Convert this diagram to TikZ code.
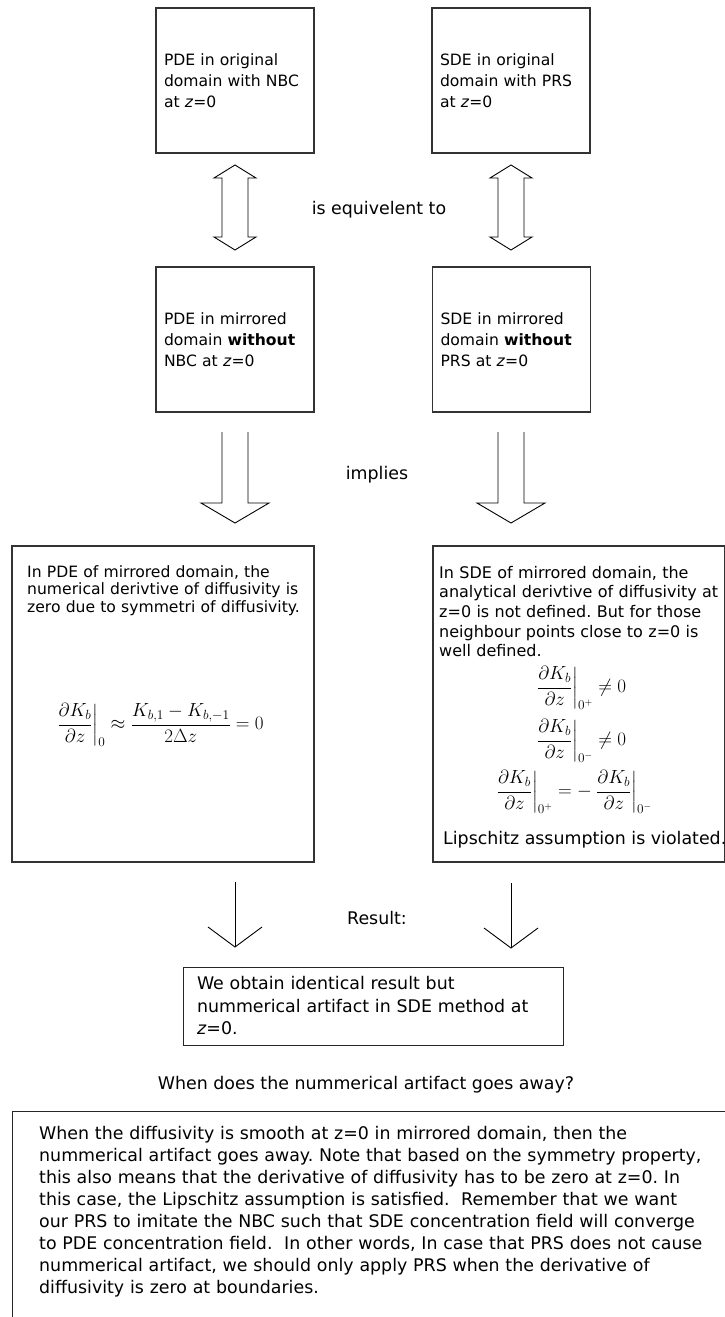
\RequirePackage{fix-cm}
\documentclass[tikz,border=0pt]{standalone}
\usepackage{fontspec}
\setmainfont{DejaVu Sans}
\usepackage{amsmath}
\frenchspacing
\begin{document}
\begin{tikzpicture}[x=1pt,y=-1pt,
  box/.style={draw=black!80, line width=1.3pt, inner sep=0pt},
  smallbox/.style={box, minimum width=158pt, minimum height=145pt, text width=142pt, inner xsep=8pt, align=left, font=\fontsize{15.6}{21}\selectfont},
  lbl/.style={font=\fontsize{17.4}{21}\selectfont, inner sep=0pt, anchor=base},
  para/.style={inner sep=0pt, anchor=base west, align=left},
  mathnode/.style={inner sep=0pt, font=\fontsize{19}{23}\selectfont},
  arr/.style={draw=black, line width=0.9pt, line join=miter},
]
\useasboundingbox (0,0) rectangle (725,1317);

% top boxes
\node[smallbox] (pdeo) at (235,80.5) {PDE in original\\domain with NBC\\at \textit{z}=0};
\node[smallbox] (sdeo) at (511,80.5) {SDE in original\\domain with PRS\\at \textit{z}=0};
\node[smallbox] (pdem) at (235,339.5) {PDE in mirrored\\domain \textbf{without}\\NBC at \textit{z}=0};
\node[smallbox] (sdem) at (511.5,339.5) {SDE in mirrored\\domain \textbf{without}\\PRS at \textit{z}=0};

% equivalence arrows
\coordinate (e1) at (235,165);
\coordinate (e2) at (511,165);
\foreach \c in {e1,e2}{
  \draw[arr] (\c) -- ++(21,13) -- ++(-8,0) -- ++(0,59) -- ++(8,0) -- ++(-21,13) -- ++(-21,-13) -- ++(8,0) -- ++(0,-59) -- ++(-8,0) -- cycle;
}
\node[lbl] (equiv) at (379,214) {is equivelent to};

% implies arrows
\coordinate (i1) at (235,523);
\coordinate (i2) at (511,523);
\foreach \c in {i1,i2}{
  \draw[arr] ([shift={(-13,-91)}]\c) -- ++(0,71) -- ++(-21,0) -- (\c) -- ++(34,-20) -- ++(-21,0) -- ++(0,-71);
}
\node[lbl] (implies) at (377,479) {implies};

% left big box
\node[box, minimum width=302pt, minimum height=316pt] (pdebox) at (163,704) {};
\node[para, text width=290pt, font=\fontsize{15.6}{17.5}\selectfont] (pdetext) at (27,577)
  {In PDE of mirrored domain, the\\numerical derivtive of diffusivity is\\zero due to symmetri of diffusivity.};
\node[mathnode] (pdeform) at (160,725)
  {$\displaystyle\left.\frac{\partial K_b}{\partial z}\right|_0\approx\frac{K_{b,1}-K_{b,-1}}{2\Delta z}=0$};

% right big box
\node[box, minimum width=292pt, minimum height=316pt] (sdebox) at (579,704) {};
\node[para, text width=280pt, font=\fontsize{16}{19.7}\selectfont] (sdetext) at (439,578)
  {In SDE of mirrored domain, the\\analytical derivtive of diffusivity at\\z=0 is not defined. But for those\\neighbour points close to z=0 is\\well defined.};
\node[mathnode] (sdef1) at (581,688)
  {$\displaystyle\left.\frac{\partial K_b}{\partial z}\right|_{0^+}\neq 0$};
\node[mathnode] (sdef2) at (581,741)
  {$\displaystyle\left.\frac{\partial K_b}{\partial z}\right|_{0^-}\neq 0$};
\node[mathnode] (sdef3) at (574,792)
  {$\displaystyle\left.\frac{\partial K_b}{\partial z}\right|_{0^+}=-\left.\frac{\partial K_b}{\partial z}\right|_{0^-}$};
\node[para, font=\fontsize{17.4}{21}\selectfont] (lips) at (443,844) {Lipschitz assumption is violated.};

% result arrows
\coordinate (r1s) at (235,882);
\coordinate (r1e) at (235,947);
\coordinate (r2s) at (511,883);
\coordinate (r2e) at (511,948);
\draw[arr] (r1s) -- (r1e);
\draw[arr] ([shift={(-27,-20)}]r1e) -- (r1e) -- ([shift={(27,-20)}]r1e);
\draw[arr] (r2s) -- (r2e);
\draw[arr] ([shift={(-27,-20)}]r2e) -- (r2e) -- ([shift={(27,-20)}]r2e);
\node[lbl] (result) at (377,924) {Result:};

% result box
\node[draw=black!85, line width=1pt, minimum width=380pt, minimum height=78pt, text width=352pt, inner xsep=14pt, inner ysep=0pt, align=left, font=\fontsize{17.4}{22.5}\selectfont] (resbox) at (373,1006)
  {We obtain identical result but\\nummerical artifact in SDE method at\\\textit{z}=0.};

\node[lbl] (question) at (366,1089) {When does the nummerical artifact goes away?};

% bottom box
\draw[draw=black!85, line width=1pt] (12,1340) -- (12,1111) -- (740,1111);
\node[para, text width=700pt, font=\fontsize{17.4}{22.1}\selectfont] (answer) at (39,1139)
  {When the diffusivity is smooth at z=0 in mirrored domain, then the\\
   nummerical artifact goes away. Note that based on the symmetry property,\\
   this also means that the derivative of diffusivity has to be zero at z=0. In\\
   this case, the Lipschitz assumption is satisfied.~ Remember that we want\\
   our PRS to imitate the NBC such that SDE concentration field will converge\\
   to PDE concentration field.~ In other words, In case that PRS does not cause\\
   nummerical artifact, we should only apply PRS when the derivative of\\
   diffusivity is zero at boundaries.};
\end{tikzpicture}
\end{document}
